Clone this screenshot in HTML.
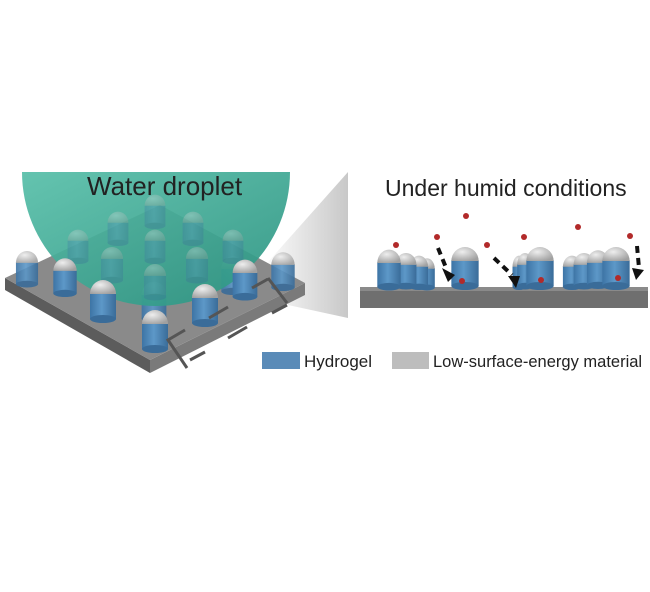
<!DOCTYPE html>
<html><head><style>
html,body{margin:0;padding:0;background:#fff;width:650px;height:592px;overflow:hidden}
svg{display:block}
text{font-family:"Liberation Sans",Arial,sans-serif;fill:#222}
</style></head><body>
<svg width="650" height="592" viewBox="0 0 650 592" xmlns="http://www.w3.org/2000/svg">
<defs>
<linearGradient id="pil" x1="0" x2="1" y1="0" y2="0">
<stop offset="0" stop-color="#3d74a5"/><stop offset="0.45" stop-color="#5d98c8"/><stop offset="1" stop-color="#3a6c99"/></linearGradient>
<radialGradient id="cap" cx="0.4" cy="0.35" r="0.7">
<stop offset="0" stop-color="#eeeeee"/><stop offset="1" stop-color="#a0a0a0"/></radialGradient>
<linearGradient id="drop" x1="0" x2="1" y1="0" y2="1">
<stop offset="0" stop-color="#58bfa9"/><stop offset="1" stop-color="#2a9280"/></linearGradient>
<linearGradient id="cone" x1="0" x2="1">
<stop offset="0" stop-color="#fafafa"/><stop offset="1" stop-color="#c8c8c8"/></linearGradient>
<g id="p"><rect x="-13" y="0" width="26" height="26" fill="url(#pil)"/><ellipse cx="0" cy="26" rx="13" ry="4" fill="#3a6c99"/><path d="M-13,1 A13,14 0 0 1 13,1 Z" fill="url(#cap)"/></g>
</defs>
<polygon points="268,262 348,172 348,318 288,305" fill="url(#cone)"/>
<polygon points="5,278 150,360 150,373 5,290" fill="#5c5c5c"/>
<polygon points="150,360 305,283 305,295 150,373" fill="#7a7a7a"/>
<polygon points="5,278 160,205 305,283 150,360" fill="#8a8a8a"/>
<g opacity="0.9">
<use href="#p" transform="translate(27,262) scale(0.85)"/>
<use href="#p" transform="translate(233,268) scale(0.9)"/>
<use href="#p" transform="translate(283,264) scale(0.9)"/>
<use href="#p" transform="translate(154,294) scale(0.95)"/>
</g>
<path d="M22,172 A134,134 0 0 0 290,172 Z" fill="url(#drop)" opacity="0.93"/>
<g opacity="0.3">
<use href="#p" transform="translate(155,205) scale(0.8)"/>
<use href="#p" transform="translate(118,222) scale(0.8)"/>
<use href="#p" transform="translate(193,222) scale(0.8)"/>
<use href="#p" transform="translate(78,240) scale(0.8)"/>
<use href="#p" transform="translate(155,240) scale(0.8)"/>
<use href="#p" transform="translate(233,240) scale(0.8)"/>
<use href="#p" transform="translate(112,258) scale(0.85)"/>
<use href="#p" transform="translate(197,258) scale(0.85)"/>
<use href="#p" transform="translate(155,275) scale(0.85)"/>
</g>
<text x="87" y="195" font-size="26">Water droplet</text>
<use href="#p" transform="translate(65,270) scale(0.9)"/>
<use href="#p" transform="translate(103,293)"/>
<use href="#p" transform="translate(155,323)"/>
<use href="#p" transform="translate(205,297)"/>
<use href="#p" transform="translate(245,272) scale(0.95)"/>
<g stroke="#555" stroke-width="3" fill="none">
<polyline points="268,278 287,303"/>
<line x1="287" y1="305" x2="272" y2="313"/>
<line x1="247" y1="327" x2="228" y2="338"/>
<line x1="205" y1="352" x2="190" y2="360"/>
<polyline points="187,368 168,340 185,330"/>
<line x1="209" y1="318" x2="228" y2="307"/>
<line x1="252" y1="288" x2="268" y2="279"/>
</g>
<text x="385" y="196" font-size="23">Under humid conditions</text>
<rect x="360" y="290" width="288" height="18" fill="#6f6f6f"/>
<rect x="360" y="287" width="288" height="4" fill="#8a8a8a"/>
<g>
<use href="#p" transform="translate(427,268) scale(0.6,0.75)"/>
<use href="#p" transform="translate(419,266) scale(0.7,0.8)"/>
<use href="#p" transform="translate(406,264) scale(0.8,0.85)"/>
<use href="#p" transform="translate(389,262) scale(0.9,0.95)"/>
<use href="#p" transform="translate(465,260) scale(1.05,1)"/>
<use href="#p" transform="translate(519,266) scale(0.5,0.8)"/>
<use href="#p" transform="translate(525,264) scale(0.6,0.85)"/>
<use href="#p" transform="translate(540,260) scale(1.05,1)"/>
<use href="#p" transform="translate(572,266) scale(0.7,0.8)"/>
<use href="#p" transform="translate(584,264) scale(0.8,0.85)"/>
<use href="#p" transform="translate(598,262) scale(0.85,0.9)"/>
<use href="#p" transform="translate(616,260) scale(1.05,1)"/>
</g>
<g fill="#b22a2a">
<circle cx="396" cy="245" r="3"/><circle cx="437" cy="237" r="3"/><circle cx="466" cy="216" r="3"/><circle cx="487" cy="245" r="3"/><circle cx="524" cy="237" r="3"/><circle cx="578" cy="227" r="3"/><circle cx="630" cy="236" r="3"/>
<circle cx="462" cy="281" r="3"/><circle cx="541" cy="280" r="3"/><circle cx="618" cy="278" r="3"/>
</g>
<g stroke="#111" stroke-width="4" stroke-dasharray="7,5" fill="none">
<line x1="438" y1="248" x2="447" y2="270"/>
<line x1="494" y1="258" x2="512" y2="275"/>
<line x1="637" y1="246" x2="639" y2="268"/>
</g>
<g fill="#111">
<polygon points="442,268 455,275 448,282"/>
<polygon points="508,276 520,276 516,288"/>
<polygon points="632,268 644,270 636,280"/>
</g>
<rect x="262" y="352" width="38" height="17" fill="#5a8bb8"/>
<text x="304" y="367" font-size="17">Hydrogel</text>
<rect x="392" y="352" width="37" height="17" fill="#bdbdbd"/>
<text x="433" y="367" font-size="16.5">Low-surface-energy material</text>
</svg>
</body></html>
